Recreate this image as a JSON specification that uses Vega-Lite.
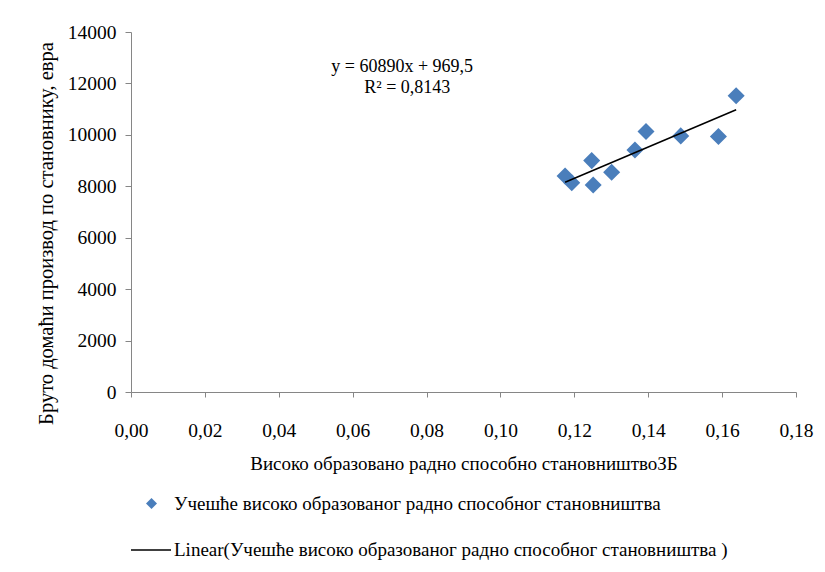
{
  "$schema": "https://vega.github.io/schema/vega-lite/v6.json",
  "autosize": {"type": "none"},
  "padding": {"left": 131, "top": 32, "right": 29, "bottom": 180},
  "width": 665,
  "height": 360,
  "background": "white",
  "config": {
    "font": "Liberation Serif",
    "view": {"stroke": null},
    "axis": {"grid": false, "domainColor": "#868686", "tickColor": "#868686", "labelColor": "black", "titleColor": "black", "labelFont": "Liberation Serif", "titleFont": "Liberation Serif", "labelFontSize": 19.5, "titleFontSize": 19, "titleFontWeight": "normal"},
    "legend": {"labelFont": "Liberation Serif", "labelFontSize": 19, "labelColor": "black", "labelLimit": 0}
  },
  "datasets": {
    "pts": [
      {"share": 0.1175, "gdp": 8402},
      {"share": 0.1193, "gdp": 8141},
      {"share": 0.1247, "gdp": 8998},
      {"share": 0.1251, "gdp": 8052},
      {"share": 0.1301, "gdp": 8546},
      {"share": 0.1364, "gdp": 9415},
      {"share": 0.1394, "gdp": 10128},
      {"share": 0.1488, "gdp": 9960},
      {"share": 0.1590, "gdp": 9933},
      {"share": 0.1638, "gdp": 11518}
    ],
    "eq": [
      {"share": 0.0734, "gdp": 12648, "txt": "y = 60890x + 969,5"},
      {"share": 0.0748, "gdp": 11830, "txt": "R² = 0,8143"}
    ]
  },
  "layer": [
    {
      "data": {"name": "pts"},
      "mark": {"type": "point", "filled": true, "opacity": 1, "size": 290, "color": "#4A7EBB"},
      "encoding": {
        "x": {"field": "share", "type": "quantitative", "scale": {"domain": [0, 0.18], "nice": false, "zero": true},
          "axis": {"title": "Високо образовано радно способно становништвоЗБ", "values": [0, 0.02, 0.04, 0.06, 0.08, 0.1, 0.12, 0.14, 0.16, 0.18], "labelExpr": "replace(format(datum.value, '.2f'), '.', ',')", "tickSize": 5, "labelPadding": 24, "titlePadding": 15, "labelFlush": false}},
        "y": {"field": "gdp", "type": "quantitative", "scale": {"domain": [0, 14000], "nice": false},
          "axis": {"title": "Бруто домаћи производ по становнику, евра", "titleFontSize": 20.5, "titleY": 201, "values": [0, 2000, 4000, 6000, 8000, 10000, 12000, 14000], "format": "d", "tickSize": 6, "labelPadding": 9, "titlePadding": 11}},
        "shape": {"datum": "Учешће високо образованог радно способног становништва", "type": "nominal",
          "scale": {"range": ["diamond"]},
          "legend": {"title": null, "orient": "none", "legendX": 11, "legendY": 462, "symbolSize": 121, "symbolFillColor": "#4A7EBB", "symbolStrokeColor": "#4A7EBB", "labelOffset": 13, "padding": 0}}
      }
    },
    {
      "data": {"name": "pts"},
      "transform": [{"regression": "gdp", "on": "share"}],
      "mark": {"type": "line", "color": "black", "strokeWidth": 1.5},
      "encoding": {
        "x": {"field": "share", "type": "quantitative"},
        "y": {"field": "gdp", "type": "quantitative"},
        "stroke": {"datum": "Linear(Учешће високо образованог радно способног становништва )", "type": "nominal",
          "scale": {"range": ["black"]},
          "legend": {"title": null, "orient": "none", "legendX": -1, "legendY": 497, "symbolType": "stroke", "symbolSize": 1600, "symbolStrokeWidth": 1.5, "labelOffset": 2, "padding": 0}}
      }
    },
    {
      "data": {"name": "eq"},
      "mark": {"type": "text", "font": "Liberation Serif", "fontSize": 18, "align": "center", "baseline": "middle", "color": "black"},
      "encoding": {
        "x": {"field": "share", "type": "quantitative"},
        "y": {"field": "gdp", "type": "quantitative"},
        "text": {"field": "txt"}
      }
    }
  ]
}
